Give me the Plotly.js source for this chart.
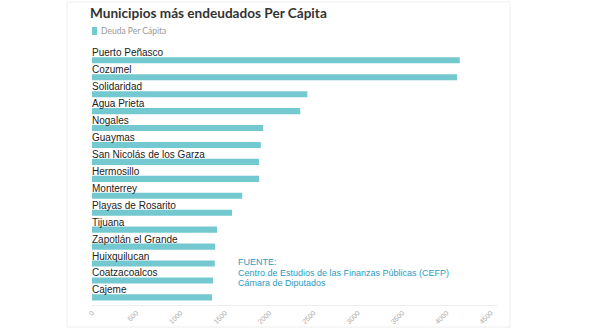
<!DOCTYPE html>
<html>
<head>
<meta charset="utf-8">
<script src="https://cdn.plot.ly/plotly-3.0.1.min.js"></script>
<style>html,body{margin:0;padding:0;background:#fff;}#chart{width:593px;height:329px;}</style>
</head>
<body>
<div id="chart"></div>
<script>
const municipios = ["Puerto Peñasco","Cozumel","Solidaridad","Agua Prieta","Nogales","Guaymas","San Nicolás de los Garza","Hermosillo","Monterrey","Playas de Rosarito","Tijuana","Zapotlán el Grande","Huixquilucan","Coatzacoalcos","Cajeme"];
const deudaPerCapita = [4150,4120,2430,2350,1930,1905,1885,1885,1695,1580,1410,1390,1385,1365,1355];
const xTicks = [0,500,1000,1500,2000,2500,3000,3500,4000,4500];
const serieNombre = "Deuda Per Cápita";
const tituloTexto = "Municipios más endeudados Per Cápita";
const fuenteLineas = ["FUENTE:","Centro de Estudios de las Finanzas Públicas (CEFP)","Cámara de Diputados"];

const barColor = "#74c8cf";

const trace = {
  type: "bar",
  orientation: "h",
  x: deudaPerCapita,
  y: municipios,
  width: 0.36,
  marker: {color: barColor},
  name: serieNombre,
  hoverinfo: "x+y",
  showlegend: false
};

const labelAnns = municipios.map((m) => ({
  x: 0, y: m, xref: "x", yref: "y",
  text: m, showarrow: false,
  xanchor: "left", yanchor: "bottom",
  yshift: 0, xshift: -2,
  font: {family: "Liberation Sans, Arial, sans-serif", size: 10, color: "#222"}
}));

const fuenteAnns = fuenteLineas.map((t, i) => ({
  xref: "paper", yref: "paper", x: (236-92)/405, y: (305-(262 + i*10.5))/254,
  xanchor: "left", yanchor: "middle", align: "left", showarrow: false,
  text: t,
  font: {family: "Liberation Sans, Arial, sans-serif", size: 9, color: "#2b9cc2"}
}));

const layout = {
  width: 593, height: 329,
  margin: {l: 92, r: 96, t: 51, b: 24},
  paper_bgcolor: "#fff", plot_bgcolor: "#fff",
  title: {
    text: "<b>" + tituloTexto + "</b>",
    xref: "container", yref: "container",
    x: 90/593, xanchor: "left",
    y: 1 - 13/329, yanchor: "middle",
    font: {family: "Lato, Open Sans, sans-serif", size: 13.6, color: "#333"}
  },
  showlegend: false,
  xaxis: {
    range: [0, 4570],
    tickvals: xTicks,
    ticktext: xTicks.map(String),
    tickangle: -45,
    tickfont: {family: "Liberation Sans, Arial, sans-serif", size: 7, color: "#aaa"},
    showgrid: false, zeroline: false,
    showline: true, linecolor: "#eee", linewidth: 1,
    ticks: "", automargin: false, fixedrange: true
  },
  yaxis: {
    range: [14.45, -0.55],
    showticklabels: false, showgrid: false, zeroline: false, showline: false,
    ticks: "", automargin: false, fixedrange: true
  },
  shapes: [
    {type: "rect", xref: "paper", yref: "paper",
     x0: (67-92)/405, x1: (510-92)/405, y0: (305-327)/254, y1: (305-2)/254,
     line: {color: "#eeeeee", width: 1}, fillcolor: "rgba(0,0,0,0)", layer: "below"},
    {type: "rect", xref: "paper", yref: "paper",
     x0: 0, x1: 5/405, y0: (305-35)/254, y1: (305-27)/254,
     line: {width: 0}, fillcolor: barColor}
  ],
  annotations: labelAnns.concat(fuenteAnns, [
    {xref: "paper", yref: "paper", x: 7/405, y: (305-31)/254,
     xanchor: "left", yanchor: "middle", showarrow: false,
     text: serieNombre,
     font: {family: "Lato, Open Sans, sans-serif", size: 8.5, color: "#999"}}
  ])
};

Plotly.newPlot("chart", [trace], layout, {displayModeBar: false, staticPlot: true});
</script>
</body>
</html>
